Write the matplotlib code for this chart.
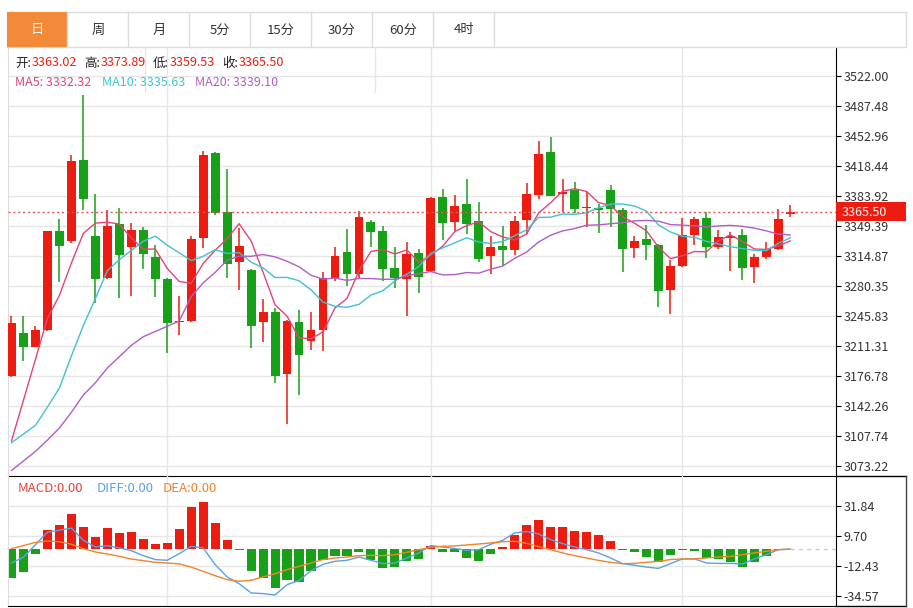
import matplotlib
matplotlib.use('Agg')
import matplotlib.pyplot as plt
import numpy as np
import pandas as pd
from matplotlib.patches import Rectangle

plt.rcParams['font.family'] = ['Noto Sans CJK SC', 'DejaVu Sans']

# ---------------- data ----------------
tabs = ['日', '周', '月', '5分', '15分', '30分', '60分', '4时']

opens = [3176.4, 3225.9, 3210.5, 3230.1, 3343.6, 3332.5, 3425.3, 3337.5, 3289.2, 3351.3,
         3325.2, 3344.8, 3314.1, 3288.8, 3239.3, 3240.4, 3335.2, 3433.4, 3365.1, 3308.0,
         3298.8, 3238.5, 3250.0, 3179.1, 3239.3, 3217.4, 3230.1, 3289.9, 3319.1, 3294.2,
         3354.0, 3343.2, 3301.0, 3288.0, 3318.3, 3297.2, 3382.8, 3354.0, 3374.3, 3354.8,
         3314.5, 3326.0, 3321.4, 3356.7, 3385.1, 3434.2, 3385.8, 3391.2, 3369.7, 3370.1,
         3391.2, 3367.4, 3324.1, 3334.8, 3327.5, 3275.4, 3303.0, 3338.7, 3358.6, 3325.6,
         3336.0, 3339.4, 3301.8, 3314.1, 3323.3, 3363.02]
highs = [3245.4, 3246.2, 3234.0, 3344.0, 3357.8, 3430.7, 3500.1, 3386.6, 3367.4, 3370.1,
         3352.8, 3348.6, 3327.9, 3289.5, 3269.2, 3337.5, 3435.3, 3434.5, 3415.0, 3347.1,
         3300.0, 3265.8, 3255.0, 3241.0, 3252.3, 3250.0, 3296.1, 3325.6, 3345.9, 3366.3,
         3356.3, 3349.8, 3325.6, 3331.4, 3322.9, 3383.1, 3392.3, 3384.7, 3403.9, 3376.6,
         3338.3, 3349.0, 3361.3, 3399.2, 3447.6, 3451.4, 3403.5, 3400.0, 3388.5, 3374.7,
         3397.0, 3370.1, 3337.5, 3350.2, 3328.3, 3309.9, 3358.6, 3360.1, 3365.5, 3345.2,
         3342.5, 3346.3, 3317.2, 3330.6, 3369.0, 3373.89]
lows = [3176.0, 3194.4, 3209.8, 3229.0, 3284.6, 3329.4, 3367.4, 3260.8, 3288.0, 3266.5,
        3268.4, 3300.3, 3268.1, 3202.9, 3223.6, 3239.0, 3324.1, 3361.7, 3289.5, 3275.4,
        3209.0, 3216.3, 3168.7, 3121.5, 3155.3, 3207.1, 3205.2, 3286.5, 3280.3, 3289.5,
        3324.9, 3285.7, 3277.7, 3246.2, 3271.9, 3296.5, 3333.7, 3344.0, 3340.2, 3307.6,
        3294.2, 3303.0, 3316.4, 3340.2, 3380.5, 3383.5, 3365.5, 3364.0, 3347.9, 3341.3,
        3347.9, 3296.1, 3312.6, 3310.6, 3256.2, 3248.1, 3302.0, 3327.9, 3312.6, 3323.3,
        3297.2, 3287.6, 3283.4, 3311.0, 3322.2, 3359.53]
closes = [3238.2, 3210.2, 3229.7, 3343.2, 3326.7, 3424.6, 3380.5, 3288.4, 3349.0, 3315.6,
          3344.4, 3316.8, 3288.4, 3237.8, 3240.4, 3334.0, 3430.7, 3364.3, 3305.3, 3326.0,
          3234.7, 3250.4, 3177.1, 3240.1, 3200.9, 3230.1, 3289.2, 3315.2, 3294.2, 3360.1,
          3342.1, 3300.3, 3289.2, 3317.5, 3290.3, 3381.6, 3352.8, 3372.8, 3352.1, 3311.4,
          3325.6, 3322.2, 3355.1, 3386.6, 3432.6, 3384.3, 3388.9, 3369.0, 3370.9, 3368.2,
          3368.6, 3322.9, 3332.5, 3327.1, 3274.2, 3303.0, 3338.7, 3357.1, 3325.6, 3337.1,
          3337.5, 3301.0, 3313.7, 3322.9, 3357.8, 3365.50]

# moving-average values at the left edge (history before the first visible bar)
ma5_lead = [3102, 3149, 3196, 3243]
ma10_lead = [3100, 3110, 3120, 3141, 3163, 3200, 3235, 3266, 3298]
ma20_lead = [3068, 3079, 3090, 3103, 3117, 3135, 3155, 3169, 3186, 3199,
             3212, 3222, 3228, 3234, 3240, 3268, 3284, 3296, 3310]

macd_hist = [-21.3, -17.1, -3.6, 14.2, 17.9, 26.0, 16.4, 9.0, 15.4, 12.2,
             12.9, 7.5, 4.1, 4.6, 15.1, 30.9, 35.1, 19.6, 7.0, -0.9,
             -16.4, -21.3, -28.6, -23.0, -24.5, -16.4, -7.7, -5.3, -5.3, -1.8,
             -8.3, -14.2, -13.4, -9.0, -7.2, 2.1, -1.8, -2.4, -6.5, -9.0,
             -3.6, 1.3, 10.7, 18.1, 21.8, 16.4, 16.1, 13.7, 12.7, 10.2,
             6.0, -0.6, -2.3, -6.0, -9.7, -4.3, -0.9, -1.3, -6.5, -7.5,
             -9.7, -12.9, -9.7, -5.3, -0.8, 0.0]
diff_vals = [-10.2, -5.9, 3.3, 12.5, 14.0, 15.5, 6.5, 1.6, 2.6, 0.9,
             -1.1, -4.8, -7.7, -8.2, -3.3, 2.1, 0.9, -11.4, -20.5, -25.5,
             -32.3, -32.8, -33.8, -26.2, -23.2, -15.9, -11.2, -9.0, -8.2, -5.8,
             -8.2, -10.7, -10.2, -6.5, -2.8, 2.6, 1.6, 0.5, -0.9, -0.4,
             3.6, 6.5, 12.0, 13.0, 11.2, 7.0, 4.1, 1.6, -0.4, -2.8,
             -6.5, -10.7, -11.9, -13.2, -14.2, -10.7, -7.2, -7.2, -10.2, -10.5,
             -10.5, -11.0, -7.2, -4.1, -0.4, 0.0]
dea_vals = [0.4, 2.6, 5.0, 6.0, 5.5, 3.6, 0.4, -2.1, -3.6, -5.3,
            -7.3, -8.5, -9.7, -10.2, -10.9, -13.2, -16.4, -19.6, -22.5, -23.7,
            -23.0, -20.5, -18.1, -15.1, -12.7, -10.2, -7.7, -6.5, -5.8, -4.8,
            -4.6, -4.8, -4.1, -2.3, -0.4, 1.3, 2.1, 2.4, 3.1, 3.8,
            4.6, 5.5, 5.8, 4.3, 1.8, -0.4, -2.8, -4.8, -6.5, -8.3,
            -9.7, -10.7, -10.5, -9.7, -9.0, -7.7, -7.2, -7.2, -6.5, -5.8,
            -5.3, -4.1, -2.8, -1.6, -0.4, 0.0]

price_ticks = [3073.22, 3107.74, 3142.26, 3176.78, 3211.31, 3245.83, 3280.35,
               3314.87, 3349.39, 3383.92, 3418.44, 3452.96, 3487.48, 3522.00]
macd_ticks = [-34.57, -12.43, 9.70, 31.84]
month_starts = [13, 35, 56]
last_price = 3365.50
info_labels = ['开:', '高:', '低:', '收:']
info_values = ['3363.02', '3373.89', '3359.53', '3365.50']
ma_labels = ['MA5: 3332.32', 'MA10: 3335.63', 'MA20: 3339.10']
macd_labels = ['MACD:0.00', 'DIFF:0.00', 'DEA:0.00']

# ---------------- styles ----------------
RED = '#ec1c10'
GREEN = '#18a018'
C_MA5 = '#e2457a'
C_MA10 = '#3fc3d0'
C_MA20 = '#b05ec4'
C_DIFF = '#5aa2e4'
C_DEA = '#f0842c'
GRID = '#e6e6e6'
TXT = '#333333'

W, H = 913, 608
fig = plt.figure(figsize=(W / 100, H / 100), dpi=100)


def rect(l, t, r, b):
    return [l / W, 1 - b / H, (r - l) / W, (b - t) / H]


ax = fig.add_axes(rect(8, 47, 836, 476))
axm = fig.add_axes(rect(8, 476, 836, 606), sharex=ax)

n = len(closes)
x = np.arange(n)
o = np.array(opens); c = np.array(closes); h = np.array(highs); l = np.array(lows)
up = c >= o
cols = np.where(up, RED, GREEN)

s = pd.Series(closes)
ma5 = s.rolling(5).mean().to_numpy(); ma5[:len(ma5_lead)] = ma5_lead
ma10 = s.rolling(10).mean().to_numpy(); ma10[:len(ma10_lead)] = ma10_lead
ma20 = s.rolling(20).mean().to_numpy(); ma20[:len(ma20_lead)] = ma20_lead

# ---- main panel ----
for yv in price_ticks:
    ax.axhline(yv, color=GRID, lw=1, zorder=0)
for ms in month_starts:
    ax.axvline(ms, color=GRID, lw=1, zorder=0)

ax.vlines(x, l, h, colors=cols, lw=1.1, zorder=2)
body_bottom = np.minimum(o, c)
body_h = np.maximum(np.abs(c - o), 1.2)
ax.bar(x, body_h, bottom=body_bottom, width=0.74, color=cols, lw=0, zorder=3)

ax.plot(x, ma5, color=C_MA5, lw=1, zorder=4)
ax.plot(x, ma10, color=C_MA10, lw=1, zorder=4)
ax.plot(x, ma20, color=C_MA20, lw=1, zorder=4)

ax.axhline(last_price, color='#e8555a', lw=1, ls=(0, (1.5, 2)), zorder=5)

ax.set_xlim(-0.292, 68.82)
ax.set_ylim(3061.71, 3555.37)
ax.yaxis.tick_right()
ax.set_yticks(price_ticks)
ax.set_yticklabels(['%.2f' % v for v in price_ticks])
ax.tick_params(axis='y', direction='out', length=3.5, width=0.8, pad=2,
               labelsize=9, colors='black', labelcolor=TXT)
ax.tick_params(axis='x', bottom=False, labelbottom=False)
ax.spines['top'].set_visible(False)
ax.spines['left'].set_color('#dddddd')
ax.spines['right'].set_color('black')
ax.spines['bottom'].set_color('black')
ax.patch.set_alpha(0)

# ---- MACD panel ----
for yv in macd_ticks:
    axm.axhline(yv, color=GRID, lw=1, zorder=0)
for ms in month_starts:
    axm.axvline(ms, color=GRID, lw=1, zorder=0)
hist = np.array(macd_hist)
axm.bar(x, hist, width=0.76, color=np.where(hist >= 0, RED, GREEN), lw=0, zorder=2)
axm.plot(x, diff_vals, color=C_DIFF, lw=1, zorder=3)
axm.plot(x, dea_vals, color=C_DEA, lw=1, zorder=3)
axm.plot([x[-1], 68.82], [dea_vals[-1], dea_vals[-1]], color='#a9d6ee', lw=1,
         ls=(0, (3, 3)), zorder=3)
axm.set_ylim(-41.95, 53.98)
axm.yaxis.tick_right()
axm.set_yticks(macd_ticks)
axm.set_yticklabels(['%.2f' % v for v in macd_ticks])
axm.tick_params(axis='y', direction='out', length=3.5, width=0.8, pad=2,
                labelsize=9, colors='black', labelcolor=TXT)
axm.tick_params(axis='x', bottom=False, labelbottom=False)
axm.spines['top'].set_visible(False)
axm.spines['left'].set_color('#dddddd')
axm.spines['right'].set_color('black')
axm.spines['bottom'].set_color('black')
axm.patch.set_alpha(0)

# ---- overlay (tabs, legends, price label) ----
ov = fig.add_axes([0, 0, 1, 1])
ov.set_xlim(0, W)
ov.set_ylim(H, 0)
ov.axis('off')
ov.patch.set_alpha(0)

ov.add_patch(Rectangle((7, 12), 899, 35, fill=False, ec='#dcdcdc', lw=1))
ov.add_patch(Rectangle((7, 12), 60, 35, color='#f28a3a', lw=0))
for k, t in enumerate(tabs):
    cx = 37 + 61 * k
    ov.text(cx, 30, t, ha='center', va='center', fontsize=9.5,
            color='white' if k == 0 else TXT)
    if k > 0:
        ov.plot([6 + 61 * k, 6 + 61 * k], [12, 47], color='#dcdcdc', lw=1)
ov.plot([494, 494], [12, 47], color='#dcdcdc', lw=1)
for xv in (145, 375):
    ov.plot([xv, xv], [47, 92], color='#e6e6e6', lw=1)

lab_x = [15, 84, 153, 222]
val_x = [32, 101, 170, 238.5]
for lx, vx, lt, vt in zip(lab_x, val_x, info_labels, info_values):
    ov.text(lx, 63, lt, ha='left', va='center', fontsize=9, color='#222222')
    ov.text(vx, 63, vt, ha='left', va='center', fontsize=9, color=RED)
for px, t, cc in zip([15, 102, 195], ma_labels, [C_MA5, C_MA10, C_MA20]):
    ov.text(px, 82, t, ha='left', va='center', fontsize=9, color=cc)
for px, t, cc in zip([17.5, 96.5, 162.5], macd_labels, ['#e8423a', C_DIFF, C_DEA]):
    ov.text(px, 488, t, ha='left', va='center', fontsize=9.5, color=cc)

# bottom/border lines extending to the right frame
ov.plot([836, 906], [476, 476], color='black', lw=1)
ov.plot([836, 906], [606, 606], color='black', lw=1)
ov.plot([906, 906], [476, 606], color='#444444', lw=1)

# current price tag
ov.add_patch(Rectangle((836, 202), 70, 19, color=RED, lw=0))
ov.text(842, 212, '%.2f' % last_price, ha='left', va='center', fontsize=9, color='white')

fig.savefig('out.png', dpi=100)
